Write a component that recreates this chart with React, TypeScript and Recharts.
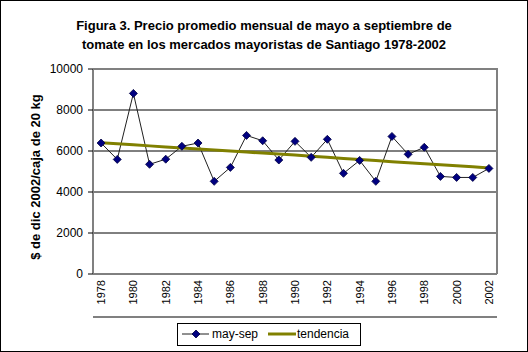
import React from 'react';
import { LineChart, Line, XAxis, YAxis, CartesianGrid } from 'recharts';

const years = [
  1978, 1979, 1980, 1981, 1982, 1983, 1984, 1985, 1986, 1987, 1988, 1989, 1990,
  1991, 1992, 1993, 1994, 1995, 1996, 1997, 1998, 1999, 2000, 2001, 2002,
];
const maySep = [
  6390, 5590, 8810, 5350, 5600, 6230, 6390, 4520, 5200, 6760, 6500, 5560, 6470,
  5690, 6570, 4910, 5540, 4520, 6710, 5840, 6180, 4760, 4710, 4710, 5150,
];
const tendencia = [
  6400, 6350, 6300, 6250, 6200, 6150, 6100, 6050, 6000, 5950, 5900, 5850, 5800,
  5740, 5690, 5640, 5590, 5540, 5480, 5430, 5380, 5330, 5280, 5230, 5170,
];
const yTicks = [0, 2000, 4000, 6000, 8000, 10000];
const labelYears = [1978, 1980, 1982, 1984, 1986, 1988, 1990, 1992, 1994, 1996, 1998, 2000, 2002];
const markTicks = years.map((y) => y - 0.5).concat([2002.5]);

const data = years.map((year, i) => ({ year, maySep: maySep[i], tendencia: tendencia[i] }));

const font = 'Arial, "Liberation Sans", sans-serif';

const Diamond = (props: any) => {
  const { cx, cy } = props;
  if (cx == null || cy == null) return null;
  return (
    <path
      d={`M${cx},${cy - 4}L${cx + 4},${cy}L${cx},${cy + 4}L${cx - 4},${cy}Z`}
      fill="#000080"
      stroke="#000040"
      strokeWidth={0.8}
    />
  );
};

const YearTick = (props: any) => {
  const { x, y, payload } = props;
  return (
    <text
      x={x}
      y={y}
      transform={`rotate(-90, ${x}, ${y})`}
      textAnchor="end"
      dominantBaseline="central"
      fontSize={11}
      fontFamily={font}
      fill="#000"
    >
      {payload.value}
    </text>
  );
};

export default function App() {
  return (
    <div
      style={{
        position: 'absolute',
        left: 0,
        top: 0,
        width: 528,
        height: 352,
        background: '#fff',
        fontFamily: font,
      }}
    >
      <div
        style={{
          position: 'absolute',
          left: 0,
          top: 0,
          width: 526,
          height: 350,
          border: '1px solid #000',
        }}
      />
      <div
        style={{
          position: 'absolute',
          left: 0,
          top: 16,
          width: 528,
          textAlign: 'center',
          fontWeight: 'bold',
          fontSize: 13,
          lineHeight: '19px',
          color: '#000',
        }}
      >
        Figura 3. Precio promedio mensual de mayo a septiembre de
        <br />
        tomate en los mercados mayoristas de Santiago 1978-2002
      </div>
      <div
        style={{
          position: 'absolute',
          left: 35,
          top: 177,
          transform: 'translate(-50%, -50%) rotate(-90deg)',
          whiteSpace: 'nowrap',
          fontWeight: 'bold',
          fontSize: 13,
          color: '#000',
        }}
      >
        $ de dic 2002/caja de 20 kg
      </div>
      <div style={{ position: 'absolute', left: 0, top: 0 }}>
        <LineChart
          width={528}
          height={352}
          data={data}
          margin={{ top: 69, right: 31, left: 33, bottom: 30 }}
        >
          <CartesianGrid vertical={false} stroke="#000" strokeOpacity={1} xAxisId="marks" />
          <XAxis
            xAxisId="marks"
            type="number"
            dataKey="year"
            domain={[1977.5, 2002.5]}
            ticks={markTicks}
            tick={false}
            tickSize={5}
            height={5}
            stroke="#808080"
            axisLine={{ stroke: '#808080', strokeWidth: 2 }}
            tickLine={{ stroke: '#000' }}
            allowDataOverflow
          />
          <XAxis
            xAxisId="labels"
            type="number"
            dataKey="year"
            domain={[1977.5, 2002.5]}
            ticks={labelYears}
            interval={0}
            tick={<YearTick />}
            tickLine={false}
            axisLine={false}
            tickSize={0}
            tickMargin={6}
            height={43}
            allowDataOverflow
          />
          <YAxis
            domain={[0, 10000]}
            ticks={yTicks}
            width={60}
            tickSize={5}
            tickMargin={5}
            axisLine={{ stroke: '#808080', strokeWidth: 2 }}
            tickLine={{ stroke: '#000' }}
            tick={{ fill: '#000', fontSize: 12, fontFamily: font }}
          />
          <Line
            xAxisId="marks"
            dataKey="maySep"
            stroke="#202020"
            strokeWidth={1}
            dot={<Diamond />}
            isAnimationActive={false}
          />
          <Line
            xAxisId="marks"
            dataKey="tendencia"
            stroke="#808000"
            strokeWidth={3}
            dot={false}
            isAnimationActive={false}
          />
        </LineChart>
      </div>
      <svg
        style={{ position: 'absolute', left: 0, top: 0, pointerEvents: 'none' }}
        width={528}
        height={352}
      >
        <line x1={93} y1={69} x2={497} y2={69} stroke="#808080" strokeWidth={2} />
        <line x1={497} y1={68} x2={497} y2={274} stroke="#808080" strokeWidth={2} />
        <rect x={177.5} y={323.5} width={183} height={22} fill="#fff" stroke="#000" />
        <line x1={182} y1={334} x2={209} y2={334} stroke="#202020" />
        <path d="M196,330L200,334L196,338L192,334Z" fill="#000080" stroke="#000040" strokeWidth={0.8} />
        <text x={212} y={334} dominantBaseline="central" fontSize={12} fontFamily={font}>
          may-sep
        </text>
        <line x1={268} y1={334} x2={296} y2={334} stroke="#808000" strokeWidth={3} />
        <text x={297} y={334} dominantBaseline="central" fontSize={12} fontFamily={font}>
          tendencia
        </text>
      </svg>
    </div>
  );
}
